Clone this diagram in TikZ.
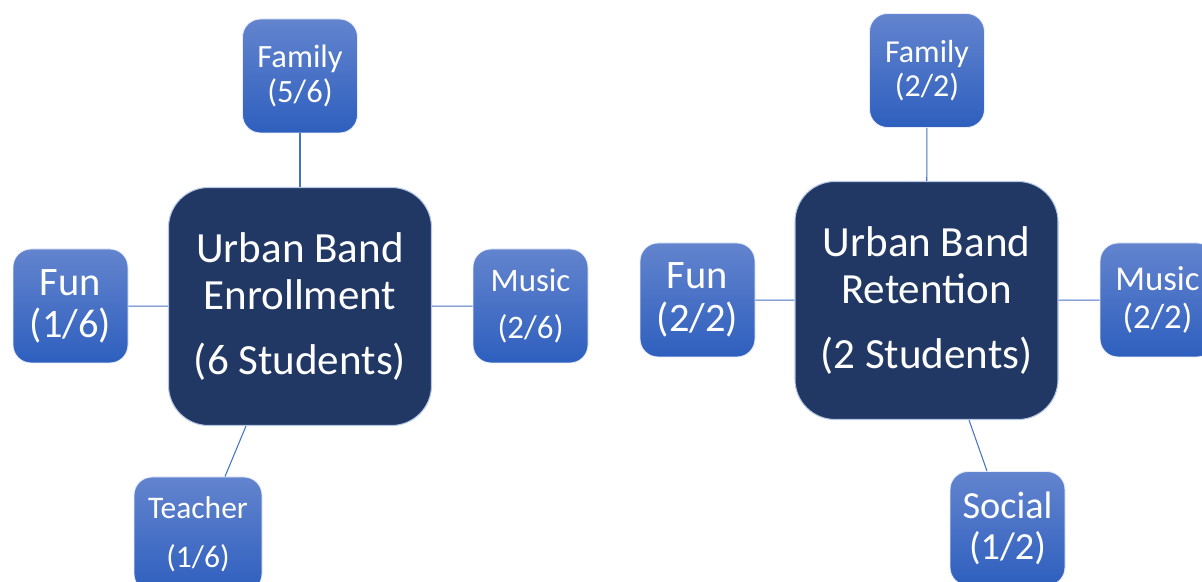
\documentclass[tikz,border=0pt]{standalone}
\usepackage{fontspec}
\setmainfont{Carlito}
\usepackage{xcolor}
\definecolor{hubblue}{HTML}{213864}
\definecolor{hubline}{HTML}{B4C7E7}
\definecolor{leaftop}{HTML}{6384CE}
\definecolor{leafbot}{HTML}{2E5FBE}
\definecolor{linkblue}{HTML}{4472C4}

\tikzset{
hub/.style={rectangle, rounded corners=0.8cm, fill=hubblue, draw=hubline, line width=0.6pt,
  minimum width=5.26cm, minimum height=4.76cm, text=white, align=center,
  font=\fontsize{24.5}{27}\selectfont},
leaf/.style 2 args={rectangle, rounded corners=0.36cm, top color=leaftop, bottom color=leafbot,
  draw=white!85!leaftop, line width=0.5pt, minimum width=2.3cm, minimum height=2.28cm,
  text=white, align=center, font=\fontsize{#1}{#2}\selectfont},
link/.style={draw=linkblue, line width=0.6pt}
}

\begin{document}
\begin{tikzpicture}
\useasboundingbox (0,0) rectangle (24.04,11.64);

\node[hub] (enroll) at (6.00,5.51) {Urban Band\\Enrollment\\[0.36cm](6 Students)};
\node[leaf={18.5}{20.4}] (famA) at (6.00,10.12) {Family\\(5/6)};
\node[leaf={23}{24}] (funA) at (1.41,5.52) {Fun\\(1/6)};
\node[leaf={18.7}{27}] (musA) at (10.61,5.52) {Music\\(2/6)};
\node[leaf={17.9}{28}, minimum width=2.56cm, minimum height=2.3cm] (teach) at (3.96,0.95) {Teacher\\(1/6)};

\node[hub] (retain) at (18.53,5.63) {Urban Band\\Retention\\[0.36cm](2 Students)};
\node[leaf={18.2}{19.4}] (famB) at (18.54,10.23) {Family\\(2/2)};
\node[leaf={23}{24.5}] (funB) at (13.95,5.64) {Fun\\(2/2)};
\node[leaf={19.8}{22}] (musB) at (23.15,5.64) {Music\\(2/2)};
\node[leaf={21.8}{23.4}] (social) at (20.15,1.07) {Social\\(1/2)};

\draw[link] (enroll) -- (famA);
\draw[link] (enroll) -- (funA);
\draw[link] (enroll) -- (musA);
\draw[link] ([xshift=-1.08cm]enroll.south) -- ([xshift=0.54cm]teach.north);

\draw[link] (retain) -- (famB);
\draw[link] (retain) -- (funB);
\draw[link] (retain) -- (musB);
\draw[link] ([xshift=0.85cm]retain.south) -- ([xshift=-0.41cm]social.north);
\end{tikzpicture}
\end{document}
